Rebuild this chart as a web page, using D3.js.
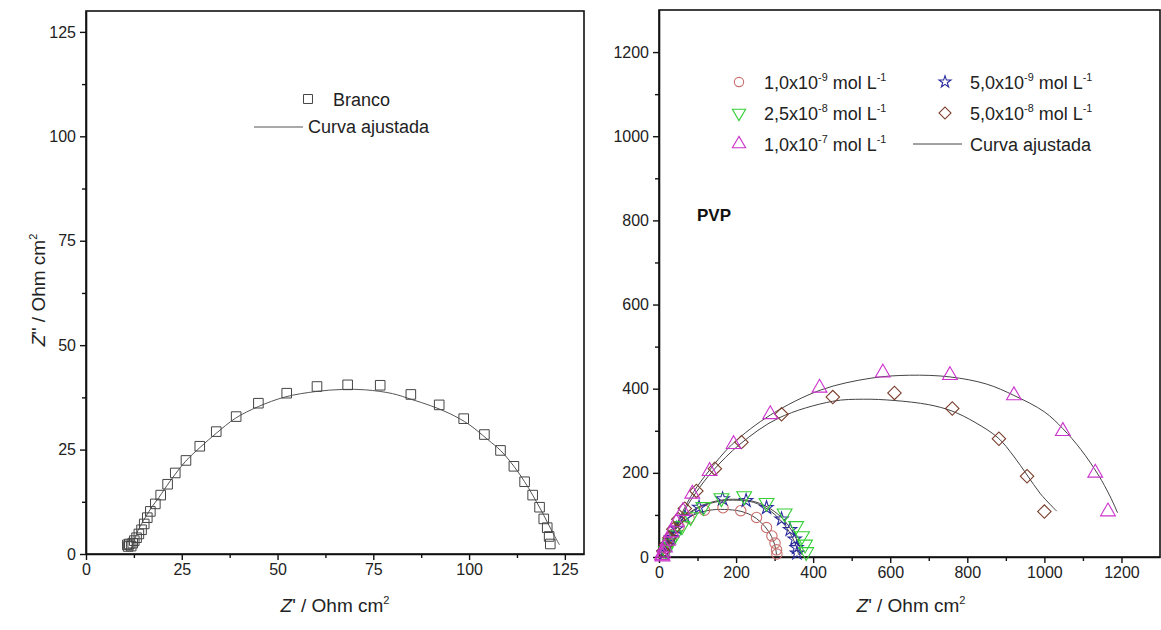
<!DOCTYPE html>
<html><head><meta charset="utf-8">
<script src="https://cdn.jsdelivr.net/npm/d3@7"></script>
<style>
body{margin:0;background:#fff;}
svg{display:block;font-family:"Liberation Sans",Arial,sans-serif;}
</style></head>
<body><svg id="c" width="1161" height="630"></svg>
<script>
// ---------- DATA ----------
// Left panel: Branco
const leftTicks = [0, 25, 50, 75, 100, 125];
const brancoX = [10.8,11.0,11.3,11.8,12.2,12.6,13.2,13.8,14.5,15.2,16.0,16.8,18.1,19.5,21.3,23.3,26.1,29.7,34.0,39.2,45.0,52.4,60.3,68.3,76.8,84.8,92.2,98.6,104.0,108.2,111.7,114.5,116.6,118.4,119.5,120.4,120.9,121.2];
const brancoY = [2.2,1.8,2.4,1.9,2.6,3.2,3.9,4.8,5.8,7.2,8.7,10.2,12.0,14.1,16.7,19.4,22.4,25.8,29.3,32.9,36.1,38.5,40.1,40.5,40.4,38.2,35.7,32.4,28.6,24.8,21.0,17.3,14.1,11.2,8.4,6.3,4.2,2.4];
const brancoFitX = [11.7,12.5,13.5,15,17,19,22,26,30,34,39,45,52,60,67,73,80,85,90,95,100,105,108.2,111.7,114.5,116.6,118.5,120.5,122.2,123.6];
const brancoFitY = [1.0,3,5.5,8,11,13.5,17.5,22.2,25.7,28.9,32.5,35.3,37.6,38.9,39.4,39.3,38.4,37.0,35.5,33.6,31.0,27.3,24.8,21,17.3,14.1,11,7.5,4.5,2.2];

// Right panel: PVP
const rightTicks = [0, 200, 400, 600, 800, 1000, 1200];
const c1X = [12,18,26,36,52,78,118,166,212,253,279,293,301,305,306];
const c1Y = [6,20,36,54,72,92,111,117,110,94,70,50,33,17,7];
const c2X = [14,22,32,46,68,104,165,226,279,318,340,352,357,358];
const c2Y = [10,28,46,68,94,118,138,134,117,90,65,42,22,9];
const c3X = [18,28,42,60,82,115,162,221,279,326,356,371,379,382];
const c3Y = [14,32,52,74,95,119,140,145,129,104,74,50,30,12];
const c4X = [11,18,27,37,50,67,97,145,214,318,451,611,761,882,955,1000];
const c4Y = [14,29,46,66,90,115,157,210,273,339,380,390,353,281,192,108];
const c5X = [8,9,10.4,14.7,23.3,32,45,62.2,86.4,131.4,193.6,288.7,416.6,580.8,755,921,1048,1132,1165];
const c5Y = [4,1,10,22,38,58,82,109,150,204,268,339,402,438,432,384,299,200,108];

const fit1X = [8,15,25,40,60,90,130,170,210,240,265,285,297,303,305];
const fit1Y = [0,20,40,62,82,100,111,113,109,99,82,60,38,18,5];
const fit2X = [8,15,28,45,70,110,160,200,245,285,315,338,352,360,362];
const fit2Y = [0,22,47,72,97,120,133,135,130,112,88,60,35,14,5];
const fit3X = [8,15,28,45,70,110,160,205,250,290,322,345,360,368,371];
const fit3Y = [0,22,48,74,99,122,135,137,131,114,90,62,36,15,5];
const fit4X = [8,20,35,60,95,140,210,310,450,530,610,700,760,820,880,920,955,990,1032];
const fit4Y = [0,22,50,100,152,205,268,330,370,375,372,362,347,320,283,240,195,150,109];
const fit5X = [8,20,35,60,90,130,190,290,420,550,650,755,850,921,1000,1048,1095,1140,1170,1190];
const fit5Y = [0,25,55,105,155,205,268,338,397,425,432,428,411,384,345,305,255,195,145,105];

const seriesNames = ["1,0x10|-9| mol L|-1", "5,0x10|-9| mol L|-1", "2,5x10|-8| mol L|-1", "5,0x10|-8| mol L|-1", "1,0x10|-7| mol L|-1"];
const seriesColors = ["#c86e6e", "#2b2b9e", "#35d035", "#7a3e2c", "#cc33cc"];

// ---------- DRAW ----------
const svg = d3.select("#c");
const zip = (a, b) => a.map((v, i) => [v, b[i]]);

function panel(xr, yr, xdom, ydom, ticks, minorStep) {
  const x = d3.scaleLinear().domain(xdom).range(xr);
  const y = d3.scaleLinear().domain(ydom).range(yr);
  const g = svg.append("g");
  g.append("rect").attr("x", xr[0]).attr("y", yr[1]).attr("width", xr[1]-xr[0]).attr("height", yr[0]-yr[1])
    .attr("fill", "none").attr("stroke", "#111").attr("stroke-width", 1.6);
  const minors = d3.range(minorStep, xdom[1], minorStep*2);
  const minorsY = d3.range(minorStep, ydom[1], minorStep*2);
  const fmt = d3.format("d");
  const gx = g.append("g").attr("transform", `translate(0,${yr[0]})`)
    .call(d3.axisBottom(x).tickValues(ticks).tickFormat(fmt).tickSize(6).tickPadding(4).tickSizeOuter(0));
  gx.append("g").call(d3.axisBottom(x).tickValues(minors).tickSize(4).tickFormat("").tickSizeOuter(0))
    .select(".domain").remove();
  const gy = g.append("g").attr("transform", `translate(${xr[0]},0)`)
    .call(d3.axisLeft(y).tickValues(ticks).tickFormat(fmt).tickSize(6).tickPadding(4).tickSizeOuter(0));
  gy.append("g").call(d3.axisLeft(y).tickValues(minorsY).tickSize(4).tickFormat("").tickSizeOuter(0))
    .select(".domain").remove();
  g.selectAll(".domain").attr("stroke", "#111").attr("stroke-width", 1.6);
  g.selectAll(".tick line").attr("stroke", "#111").attr("stroke-width", 1.4);
  g.selectAll(".tick text").attr("font-size", 16).attr("fill", "#222")
    .attr("font-family", "'Liberation Sans',Arial,sans-serif");
  return {x, y, g};
}

const L = panel([86, 584], [554, 11], [0, 130], [0, 130], leftTicks, 12.5);
const R = panel([659, 1160], [557, 10], [0, 1300], [0, 1300], rightTicks, 100);

const line = (p) => d3.line().x(d => p.x(d[0])).y(d => p.y(d[1])).curve(d3.curveCatmullRom.alpha(0.5));

L.g.append("path").datum(zip(brancoFitX, brancoFitY)).attr("d", line(L))
  .attr("fill", "none").attr("stroke", "#555").attr("stroke-width", 1);
L.g.selectAll(".sq").data(zip(brancoX, brancoY)).enter().append("path")
  .attr("d", d3.symbol(d3.symbolSquare, 92)())
  .attr("transform", d => `translate(${L.x(d[0])},${L.y(d[1])})`)
  .attr("fill", "none").attr("stroke", "#444").attr("stroke-width", 1);

[[fit1X,fit1Y],[fit2X,fit2Y],[fit3X,fit3Y],[fit4X,fit4Y],[fit5X,fit5Y]].forEach(f => {
  R.g.append("path").datum(zip(f[0], f[1])).attr("d", line(R))
    .attr("fill", "none").attr("stroke", "#444").attr("stroke-width", 1);
});

const shapes = [
  {type: d3.symbolCircle, size: 85, rot: 0},
  {type: d3.symbolStar, size: 55, rot: 0},
  {type: d3.symbolTriangle, size: 95, rot: 180},
  {type: d3.symbolSquare, size: 90, rot: 45},
  {type: d3.symbolTriangle, size: 95, rot: 0}
];
const rData = [[c1X,c1Y],[c2X,c2Y],[c3X,c3Y],[c4X,c4Y],[c5X,c5Y]];
rData.forEach((s, i) => {
  R.g.append("g").selectAll("path").data(zip(s[0], s[1])).enter().append("path")
    .attr("d", d3.symbol(shapes[i].type, shapes[i].size)())
    .attr("transform", d => `translate(${R.x(d[0])},${R.y(d[1])}) rotate(${shapes[i].rot})`)
    .attr("fill", "none").attr("stroke", seriesColors[i]).attr("stroke-width", 1.1);
});

// ---------- TEXT ----------
function richText(sel, str, fs) {
  const parts = str.split("|");
  parts.forEach((p, k) => {
    const sup = k % 2 === 1;
    sel.append("tspan").text(p)
      .attr("font-size", sup ? fs*0.6 : fs)
      .attr("dy", sup ? -fs*0.42 : (k > 0 ? fs*0.42 : 0));
  });
}
function axisTitle(x, y, rot, prime) {
  const t = svg.append("text").attr("transform", `translate(${x},${y}) rotate(${rot})`)
    .attr("text-anchor", "middle").attr("font-size", 19).attr("fill", "#222");
  t.append("tspan").attr("font-style", "italic").text("Z");
  t.append("tspan").text(prime + " / Ohm cm");
  t.append("tspan").attr("font-size", 11).attr("dy", -8).text("2");
}
axisTitle(335, 612, 0, "'");
axisTitle(911, 612, 0, "'");
axisTitle(45, 290, -90, "''");

svg.append("path").attr("d", d3.symbol(d3.symbolSquare, 80)()).attr("transform", "translate(308,99)")
  .attr("fill", "none").attr("stroke", "#444");
svg.append("text").attr("x", 333).attr("y", 106).attr("font-size", 18).attr("fill", "#222").text("Branco");
svg.append("line").attr("x1", 254).attr("x2", 303).attr("y1", 127).attr("y2", 127).attr("stroke", "#555");
svg.append("text").attr("x", 308).attr("y", 133).attr("font-size", 18).attr("fill", "#222").text("Curva ajustada");

const legPos = [[739, 82, 0], [945, 82, 1], [739, 113, 2], [945, 113, 3], [739, 144, 4]];
legPos.forEach(([lx, ly, i]) => {
  svg.append("path").attr("d", d3.symbol(shapes[i].type, shapes[i].size*0.8)())
    .attr("transform", `translate(${lx},${ly}) rotate(${shapes[i].rot})`)
    .attr("fill", "none").attr("stroke", seriesColors[i]).attr("stroke-width", 1.1);
  const t = svg.append("text").attr("x", lx + 25).attr("y", ly + 7).attr("fill", "#222");
  richText(t, seriesNames[i], 18);
});
svg.append("line").attr("x1", 913).attr("x2", 962).attr("y1", 144).attr("y2", 144).attr("stroke", "#444");
svg.append("text").attr("x", 970).attr("y", 151).attr("font-size", 18).attr("fill", "#222").text("Curva ajustada");

svg.append("text").attr("x", 697).attr("y", 221).attr("font-size", 17).attr("font-weight", "bold")
  .attr("fill", "#111").text("PVP");
</script></body></html>
